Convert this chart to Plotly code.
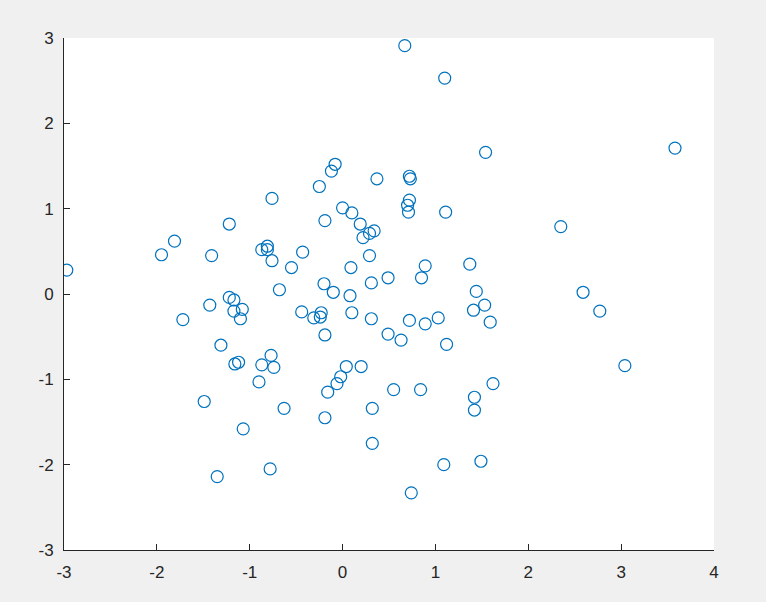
import plotly.graph_objects as go

x_vals = [-2.97, 0.67, 1.10, 3.58, 1.54, 2.35, -0.08, -0.12, -0.25, 0.37,
          0.72, 0.73, -0.76, 0.72, 0.70, 0.71, 1.11, 0.00, 0.10, -0.19,
          0.19, -1.22, 0.34, 0.29, 0.22, -1.81, -1.95, -1.41, -0.81, -0.87,
          -0.81, -0.76, -0.43, 0.29, -0.55, 0.09, 1.37, 0.89, 0.49, 0.85,
          -0.20, 0.31, -0.68, -0.10, 0.08, 2.59, 1.44, -1.22, -1.17, -1.43,
          1.53, -1.17, -1.08, 1.41, 2.77, -0.44, 0.10, -1.72, -1.10, -0.31,
          -0.24, -0.23, 0.31, 0.72, 0.89, 1.03, 1.59, -0.19, 0.49, 0.63,
          1.12, -1.31, -0.77, -1.16, -1.12, -0.87, -0.74, 0.04, 0.20, -0.02,
          -0.06, -0.90, 1.62, 0.55, 0.84, -0.16, -1.49, 1.42, 1.42, 0.32,
          -0.63, -0.19, -1.07, 0.32, 1.09, 1.49, -0.78, -1.35, 0.74, 3.04]
y_vals = [0.28, 2.91, 2.53, 1.71, 1.66, 0.79, 1.52, 1.44, 1.26, 1.35,
          1.38, 1.35, 1.12, 1.10, 1.04, 0.96, 0.96, 1.01, 0.95, 0.86,
          0.82, 0.82, 0.74, 0.71, 0.66, 0.62, 0.46, 0.45, 0.56, 0.52,
          0.52, 0.39, 0.49, 0.45, 0.31, 0.31, 0.35, 0.33, 0.19, 0.19,
          0.12, 0.13, 0.05, 0.02, -0.02, 0.02, 0.03, -0.04, -0.07, -0.13,
          -0.13, -0.20, -0.18, -0.19, -0.20, -0.21, -0.22, -0.30, -0.29, -0.28,
          -0.27, -0.22, -0.29, -0.31, -0.35, -0.28, -0.33, -0.48, -0.47, -0.54,
          -0.59, -0.60, -0.72, -0.82, -0.80, -0.83, -0.86, -0.85, -0.85, -0.97,
          -1.05, -1.03, -1.05, -1.12, -1.12, -1.15, -1.26, -1.21, -1.36, -1.34,
          -1.34, -1.45, -1.58, -1.75, -2.00, -1.96, -2.05, -2.14, -2.33, -0.84]

x_ticks = [-3, -2, -1, 0, 1, 2, 3, 4]
y_ticks = [-3, -2, -1, 0, 1, 2, 3]

fig = go.Figure(go.Scatter(
    x=x_vals, y=y_vals, mode="markers",
    marker=dict(symbol="circle-open", size=12, color="#0072BD",
                line=dict(width=1.2, color="#0072BD")),
    hoverinfo="skip",
))

axis_common = dict(
    showgrid=False, zeroline=False, showline=True, linecolor="#262626",
    linewidth=1, ticks="inside", ticklen=6, tickcolor="#262626",
    tickfont=dict(family="Liberation Sans, Arial, sans-serif", size=17, color="#262626"),
    mirror=False,
)

fig.update_layout(
    width=766, height=602,
    margin=dict(l=64, r=52, t=38, b=52),
    paper_bgcolor="#f0f0f0", plot_bgcolor="#ffffff",
    showlegend=False,
    xaxis=dict(range=[-3, 4], tickvals=x_ticks, ticktext=[str(v) for v in x_ticks],
               ticklabelstandoff=7, **axis_common),
    yaxis=dict(range=[-3, 3], tickvals=y_ticks, ticktext=[str(v) for v in y_ticks],
               ticklabelstandoff=6, **axis_common),
)

fig.write_html(
    "out.html",
    config={"displayModeBar": False, "staticPlot": True},
    post_script="document.body.style.margin='0';document.body.style.background='#f0f0f0';",
)
